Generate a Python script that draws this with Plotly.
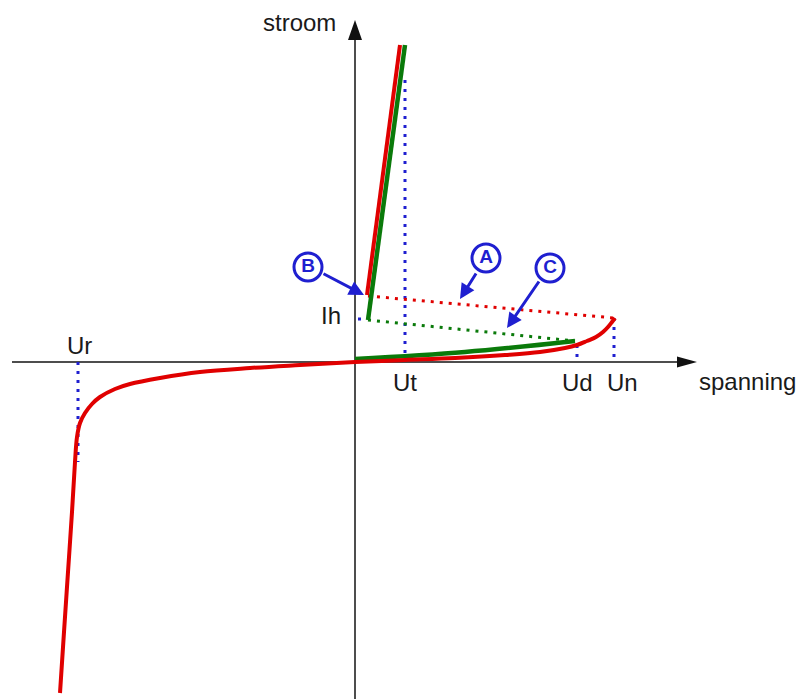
import plotly.graph_objects as go

# Schematic thyristor/diac characteristic, voltage (spanning) vs current (stroom)
# in arbitrary units; origin at the crossing of the axes.

# Main characteristic: reverse breakdown branch, through the origin, up to Un
main_u = [-295, -291, -287, -283, -280, -278, -275, -270, -263, -255, -240, -225,
          -195, -155, -105, -55, 0, 50, 100, 150, 185, 210, 222, 232, 241, 248,
          253, 257, 260]
main_i = [-331, -270, -210, -150, -100, -75, -61, -51, -42, -35, -27, -22,
          -16, -10, -6, -3, 0, 2, 4, 7, 10, 14, 17, 21, 25, 30, 35, 40, 44]

# Conducting state of the main characteristic
on_red_u = [12, 45]
on_red_i = [67, 317]

# Triggered characteristic: forward branch up to Ud and its conducting state
fwd_green_u = [0, 110, 220]
fwd_green_i = [3, 10, 21]
on_green_u = [13, 50]
on_green_i = [42, 317]

# Switch-over paths (A: from Un, C: from Ud)
path_a_u = [13, 259]
path_a_i = [66, 44]
path_c_u = [13, 220]
path_c_i = [42, 21]

# Characteristic voltages / currents
U_T, U_D, U_N, U_R = 50, 222, 259, -277
I_H = 43
I_UT_TOP = 282
I_UD = 17
I_UN = 44
I_UR_LOW = -100

# Axis extents
X_MIN, X_MAX = -355, 445
Y_MIN, Y_MAX = -337, 362
AX_LEFT, AX_TIP_X, AX_TIP_Y = -343, 342, 342

# Circled markers and their pointer arrows
mark_text = ["B", "A", "C"]
mark_u = [-47, 131, 195]
mark_i = [95, 104, 94]
arrow_tail_u = [-33, 122, 185]
arrow_tail_i = [89, 90, 82]
arrow_tip_u = [9, 105, 152]
arrow_tip_i = [67, 63, 34]

RED = "#e00000"
GREEN = "#0a7a0a"
BLUE = "#1f1fd0"
AXIS = "#4d4d4d"
TEXT = "#1a1a1a"
FONT = "Liberation Sans, Arial, sans-serif"
DOTS = "3px,6px"

fig = go.Figure()

# dotted guide lines
guides = [
    ([U_T, U_T], [I_UT_TOP, 7]),
    ([U_D, U_D], [I_UD, 4]),
    ([U_N, U_N], [I_UN, 0]),
    ([U_R, U_R], [0, I_UR_LOW]),
    ([3, 8], [I_H, I_H]),
]
for gu, gi in guides:
    fig.add_trace(go.Scatter(x=gu, y=gi, mode="lines",
                             line=dict(color=BLUE, width=3, dash=DOTS),
                             hoverinfo="skip"))

fig.add_trace(go.Scatter(x=path_a_u, y=path_a_i, mode="lines",
                         line=dict(color=RED, width=3, dash=DOTS)))
fig.add_trace(go.Scatter(x=path_c_u, y=path_c_i, mode="lines",
                         line=dict(color=GREEN, width=3, dash=DOTS)))

# green characteristic
fig.add_trace(go.Scatter(x=fwd_green_u, y=fwd_green_i, mode="lines",
                         line=dict(color=GREEN, width=4.5, shape="spline")))
fig.add_trace(go.Scatter(x=on_green_u, y=on_green_i, mode="lines",
                         line=dict(color=GREEN, width=4.5)))

# red characteristic
fig.add_trace(go.Scatter(x=main_u, y=main_i, mode="lines",
                         line=dict(color=RED, width=4, shape="spline", smoothing=1)))
fig.add_trace(go.Scatter(x=on_red_u, y=on_red_i, mode="lines",
                         line=dict(color=RED, width=4)))

# circled letters
fig.add_trace(go.Scatter(x=mark_u, y=mark_i, mode="markers+text", text=mark_text,
                         textposition="middle center",
                         textfont=dict(family=FONT, size=19, color=BLUE, weight="bold"),
                         marker=dict(size=28, color="white",
                                     line=dict(color=BLUE, width=3))))

shapes = [
    # axes
    dict(type="line", x0=AX_LEFT, x1=AX_TIP_X - 18, y0=0, y1=0,
         line=dict(color=AXIS, width=2)),
    dict(type="line", x0=0, x1=0, y0=Y_MIN, y1=AX_TIP_Y - 18,
         line=dict(color=AXIS, width=2)),
    # arrowheads
    dict(type="path",
         path=f"M {AX_TIP_X},0 L {AX_TIP_X - 20},5.5 L {AX_TIP_X - 20},-5.5 Z",
         fillcolor="#111", line=dict(width=0)),
    dict(type="path",
         path=f"M 0,{AX_TIP_Y} L -7,{AX_TIP_Y - 20} L 7,{AX_TIP_Y - 20} Z",
         fillcolor="#111", line=dict(width=0)),
]
for s in shapes:
    s.update(xref="x", yref="y", layer="below")

annotations = []
for tu, ti, hu, hi in zip(arrow_tail_u, arrow_tail_i, arrow_tip_u, arrow_tip_i):
    annotations.append(dict(x=hu, y=hi, ax=tu, ay=ti, xref="x", yref="y",
                            axref="x", ayref="y", text="", showarrow=True,
                            arrowhead=2, arrowsize=1, arrowwidth=3,
                            arrowcolor=BLUE))

labels = [
    ("stroom", -56, 340, "center"),
    ("spanning", AX_TIP_X, -19, "left"),
    ("Ut", U_T, -20, "center"),
    ("Ud", U_D, -20, "center"),
    ("Un", U_N + 8, -20, "center"),
    ("Ur", U_R + 1, 17, "center"),
    ("Ih", -24, 47, "center"),
]
for txt, lu, li, anc in labels:
    annotations.append(dict(x=lu, y=li, xref="x", yref="y", text=txt,
                            showarrow=False, xanchor=anc, yanchor="middle",
                            font=dict(family=FONT, size=24, color=TEXT)))

fig.update_layout(
    width=800, height=699,
    margin=dict(l=0, r=0, t=0, b=0),
    paper_bgcolor="white", plot_bgcolor="white",
    showlegend=False,
    xaxis=dict(range=[X_MIN, X_MAX], visible=False, fixedrange=True),
    yaxis=dict(range=[Y_MIN, Y_MAX], visible=False, fixedrange=True),
    shapes=shapes,
    annotations=annotations,
)

fig.write_html("out.html")
